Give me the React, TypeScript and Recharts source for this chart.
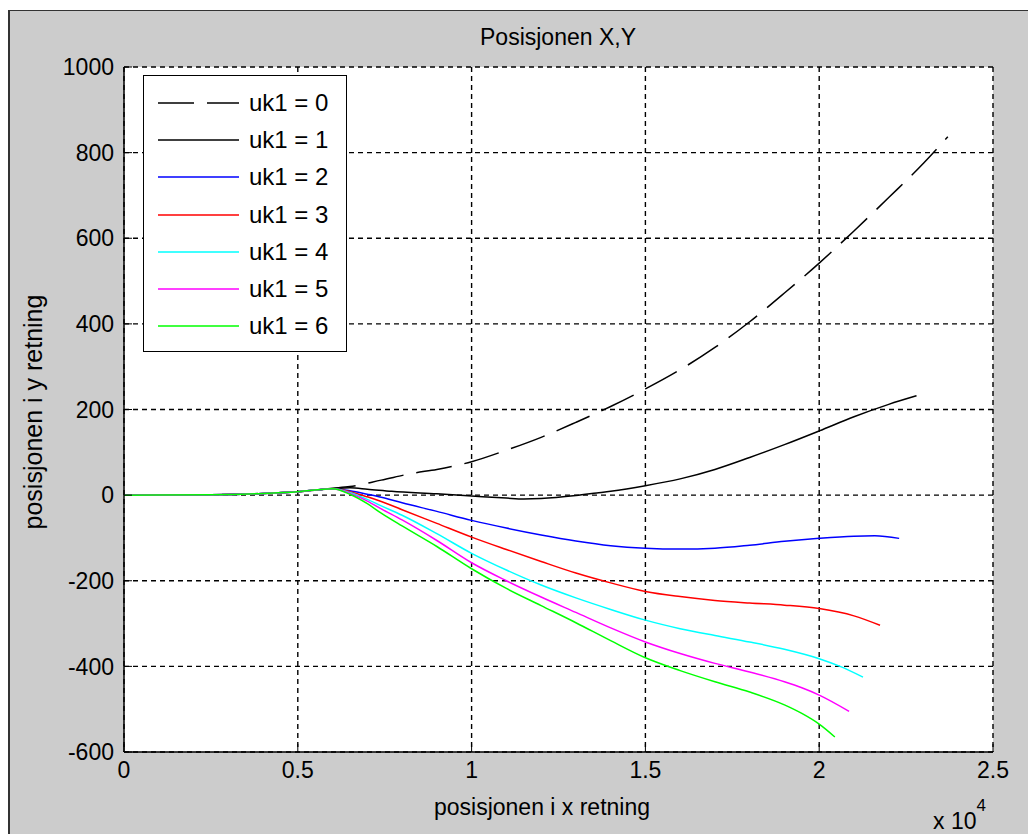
import * as React from "react";
import {
  CartesianGrid,
  Line,
  LineChart,
  XAxis,
  YAxis,
} from "recharts";

// x values in metres (axis shows them x 10^4), y in metres
const X_TICKS = [0, 5000, 10000, 15000, 20000, 25000];
const Y_TICKS = [-600, -400, -200, 0, 200, 400, 600, 800, 1000];

const uk0X = [0, 2500, 4000, 5000, 6000, 6500, 7400, 8300, 9000, 10000, 11000, 12000, 13000, 14000, 15000, 16000, 17000, 18000, 19000, 20000, 21000, 22000, 23000, 23700];
const uk0Y = [0, 1, 4, 8, 16, 20, 35, 51, 60, 78, 105, 135, 170, 207, 248, 293, 345, 405, 472, 542, 617, 695, 775, 837];

const uk1X = [0, 2500, 4000, 5000, 6000, 6500, 7000, 7700, 9000, 10000, 11000, 11500, 12000, 13000, 13600, 14000, 15000, 16000, 17000, 18000, 19000, 20000, 21000, 22000, 22800];
const uk1Y = [0, 1, 4, 8, 15, 17, 14, 9, 3, -2, -7, -9, -8, -1, 5, 9, 22, 38, 60, 88, 118, 150, 183, 212, 232];

const uk2X = [0, 2500, 4000, 5000, 6000, 6500, 7000, 7400, 8000, 9000, 10000, 11000, 12000, 13000, 14000, 15000, 16000, 17000, 18000, 19000, 20000, 21000, 21600, 22300];
const uk2Y = [0, 1, 4, 8, 15, 10, 2, -5, -18, -38, -59, -77, -93, -107, -118, -124, -126, -124, -117, -108, -101, -96, -95, -101];

const uk3X = [0, 2500, 4000, 5000, 6000, 6500, 7000, 7400, 8000, 9000, 10000, 11000, 12000, 13000, 14000, 15000, 16000, 17000, 18000, 19000, 20000, 21000, 21750];
const uk3Y = [0, 1, 4, 8, 15, 8, -4, -15, -34, -66, -98, -127, -155, -182, -205, -225, -237, -246, -252, -257, -265, -282, -304];

const uk4X = [0, 2500, 4000, 5000, 6000, 6500, 7000, 7400, 8000, 9000, 10000, 11000, 12000, 13000, 14000, 15000, 16000, 17000, 18000, 19000, 20000, 20600, 21260];
const uk4Y = [0, 1, 4, 8, 15, 6, -10, -25, -47, -90, -136, -175, -210, -240, -267, -292, -312, -328, -343, -360, -382, -400, -425];

const uk5X = [0, 2500, 4000, 5000, 6000, 6500, 7000, 7400, 8000, 9000, 10000, 11000, 12000, 13000, 14000, 15000, 16000, 17000, 18000, 19000, 19500, 20000, 20860];
const uk5Y = [0, 1, 4, 8, 15, 4, -14, -32, -58, -106, -158, -200, -238, -274, -310, -343, -370, -393, -413, -436, -450, -467, -505];

const uk6X = [0, 2500, 4000, 5000, 6000, 6500, 7000, 7400, 8000, 9000, 10000, 11000, 12000, 13000, 14000, 15000, 16000, 17000, 18000, 19000, 19500, 20000, 20450];
const uk6Y = [0, 1, 4, 8, 15, 2, -20, -42, -72, -120, -172, -218, -258, -298, -340, -380, -410, -436, -460, -490, -510, -535, -565];

const NAMES = ["uk1 = 0", "uk1 = 1", "uk1 = 2", "uk1 = 3", "uk1 = 4", "uk1 = 5", "uk1 = 6"];
const COLORS = ["#000000", "#000000", "#0000ff", "#ff0000", "#00ffff", "#ff00ff", "#00ff00"];
const DASHES = ["36 13", undefined, undefined, undefined, undefined, undefined, undefined];

const XS = [uk0X, uk1X, uk2X, uk3X, uk4X, uk5X, uk6X];
const YS = [uk0Y, uk1Y, uk2Y, uk3Y, uk4Y, uk5Y, uk6Y];

const FONT = "'Liberation Sans', Arial, Helvetica, sans-serif";

const series = NAMES.map((name, i) => ({
  name,
  color: COLORS[i],
  dash: DASHES[i],
  data: XS[i].map((x, j) => ({ x, y: YS[i][j] })),
}));

function LegendBox() {
  return (
    <div
      style={{
        position: "absolute",
        left: 143,
        top: 75,
        width: 202,
        height: 267,
        background: "#fff",
        border: "1px solid #000",
        paddingTop: 8,
        fontFamily: FONT,
        fontSize: 24,
      }}
    >
      {series.map((s) => (
        <div
          key={s.name}
          style={{ height: 37.3, display: "flex", alignItems: "center" }}
        >
          <svg width={91} height={10} style={{ marginLeft: 14 }}>
            <line
              x1={0}
              x2={81}
              y1={5}
              y2={5}
              stroke={s.color}
              strokeWidth={1.5}
              strokeDasharray={s.dash}
            />
          </svg>
          <span style={{ lineHeight: 1 }}>{s.name}</span>
        </div>
      ))}
    </div>
  );
}

export default function App() {
  return (
    <div
      style={{
        position: "fixed",
        left: 0,
        top: 0,
        width: 1028,
        height: 834,
        background: "#fff",
        overflow: "hidden",
      }}
    >
      <div
        style={{
          position: "absolute",
          left: 8,
          top: 10,
          right: 0,
          bottom: 0,
          background: "#cccccc",
          borderLeft: "2px solid #333",
          borderTop: "1px solid #333",
        }}
      />
      <div style={{ position: "absolute", left: 0, top: 0 }}>
        <LineChart
          width={1028}
          height={834}
          margin={{ top: 57, right: 25, bottom: 52, left: 64 }}
        >
          <CartesianGrid
            xAxisId={0}
            yAxisId={0}
            stroke="#000"
            strokeWidth={1.4}
            strokeDasharray="5 4"
            fill="#ffffff"
            fillOpacity={1}
          />
          <XAxis
            xAxisId={0}
            type="number"
            dataKey="x"
            domain={[0, 25000]}
            ticks={X_TICKS}
            allowDataOverflow
            height={30}
            tickSize={-8}
            tickMargin={18}
            tickFormatter={(v) => String(v / 10000)}
            tick={{ fill: "#000", fontSize: 23, fontFamily: FONT }}
            axisLine={{ stroke: "#000", strokeWidth: 1.5 }}
            tickLine={{ stroke: "#000" }}
          />
          <XAxis
            xAxisId="top"
            orientation="top"
            type="number"
            dataKey="x"
            domain={[0, 25000]}
            ticks={X_TICKS}
            allowDataOverflow
            height={10}
            tickSize={-8}
            tick={false}
            axisLine={false}
            tickLine={{ stroke: "#000" }}
          />
          <YAxis
            yAxisId={0}
            type="number"
            dataKey="y"
            domain={[-600, 1000]}
            ticks={Y_TICKS}
            allowDataOverflow
            width={60}
            tickSize={-8}
            tickMargin={18}
            tick={{ fill: "#000", fontSize: 23, fontFamily: FONT }}
            axisLine={{ stroke: "#000", strokeWidth: 1.5 }}
            tickLine={{ stroke: "#000" }}
          />
          <YAxis
            yAxisId="right"
            orientation="right"
            type="number"
            dataKey="y"
            domain={[-600, 1000]}
            ticks={Y_TICKS}
            allowDataOverflow
            width={10}
            tickSize={-8}
            tick={false}
            axisLine={false}
            tickLine={{ stroke: "#000" }}
          />
          {series.map((s) => (
            <Line
              key={s.name}
              xAxisId={0}
              yAxisId={0}
              data={s.data}
              dataKey="y"
              name={s.name}
              type="monotone"
              stroke={s.color}
              strokeWidth={1.5}
              strokeDasharray={s.dash}
              dot={false}
              activeDot={false}
              isAnimationActive={false}
            />
          ))}
        </LineChart>
      </div>
      <LegendBox />
      <div
        style={{
          position: "absolute",
          left: 358,
          width: 400,
          top: 24,
          textAlign: "center",
          fontFamily: FONT,
          fontSize: 23,
        }}
      >
        Posisjonen X,Y
      </div>
      <div
        style={{
          position: "absolute",
          left: 342,
          width: 400,
          top: 794,
          textAlign: "center",
          fontFamily: FONT,
          fontSize: 23,
        }}
      >
        posisjonen i x retning
      </div>
      <div
        style={{
          position: "absolute",
          left: 33,
          top: 412,
          transform: "translate(-50%, -50%) rotate(-90deg)",
          whiteSpace: "nowrap",
          fontFamily: FONT,
          fontSize: 25,
        }}
      >
        posisjonen i y retning
      </div>
      <div
        style={{
          position: "absolute",
          left: 933,
          top: 808,
          fontFamily: FONT,
          fontSize: 23,
          whiteSpace: "nowrap",
        }}
      >
        x 10
        <sup style={{ fontSize: 17, verticalAlign: "top", position: "relative", top: -12 }}>4</sup>
      </div>
    </div>
  );
}
